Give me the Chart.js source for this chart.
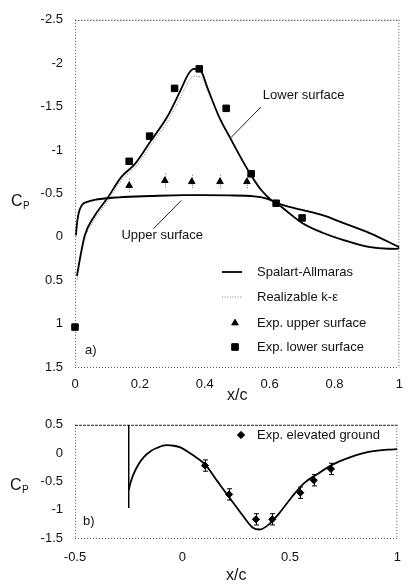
<!DOCTYPE html>
<html>
<head>
<meta charset="utf-8">
<title>Cp</title>
<script src="https://cdn.jsdelivr.net/npm/chart.js@4.4.0/dist/chart.umd.min.js"></script>
<style>
  html, body { margin: 0; padding: 0; background: #fff; }
  #wrap { position: relative; width: 413px; height: 585px; }
  canvas { position: absolute; left: 0; }
  #cpTop { top: 0; }
  #cpGnd { top: 405px; }
</style>
</head>
<body>
<div id="wrap">
  <canvas id="cpTop" width="413" height="405"></canvas>
  <canvas id="cpGnd" width="413" height="180"></canvas>
</div>
<script>
// a) perfil: ejes
const xTicksA = [0, 0.2, 0.4, 0.6, 0.8, 1];
const cpTicksA = [-2.5, -2, -1.5, -1, -0.5, 0, 0.5, 1, 1.5];

// Spalart-Allmaras
const saUpX  = [0.003, 0.006, 0.01, 0.015, 0.022, 0.035, 0.066, 0.134, 0.233, 0.334, 0.394, 0.472, 0.552, 0.588, 0.612, 0.642, 0.70, 0.77, 0.812, 0.91, 1.0];
const saUpCp = [-0.02, -0.15, -0.25, -0.32, -0.37, -0.40, -0.43, -0.455, -0.47, -0.48, -0.48, -0.477, -0.466, -0.444, -0.41, -0.364, -0.31, -0.24, -0.18, -0.04, 0.12];
const saLowX  = [0.006, 0.015, 0.03, 0.06, 0.099, 0.143, 0.185, 0.233, 0.284, 0.322, 0.352, 0.367, 0.388, 0.409, 0.442, 0.484, 0.522, 0.546, 0.576, 0.606, 0.621, 0.651, 0.70, 0.761, 0.83, 0.91, 0.99, 1.0];
const saLowCp = [0.45, 0.257, -0.014, -0.24, -0.44, -0.69, -0.84, -1.10, -1.38, -1.66, -1.89, -1.935, -1.91, -1.71, -1.40, -1.10, -0.84, -0.69, -0.53, -0.42, -0.39, -0.30, -0.16, -0.05, 0.04, 0.12, 0.14, 0.13];

// Realizable k-epsilon
const keUpCp  = [0.0, -0.12, -0.22, -0.30, -0.35, -0.39, -0.42, -0.45, -0.465, -0.475, -0.48, -0.477, -0.466, -0.446, -0.415, -0.37, -0.315, -0.245, -0.185, -0.045, 0.12];
const keLowCp = [0.5, 0.3, 0.03, -0.2, -0.4, -0.65, -0.80, -1.05, -1.32, -1.58, -1.80, -1.85, -1.84, -1.68, -1.40, -1.10, -0.85, -0.70, -0.54, -0.43, -0.40, -0.31, -0.17, -0.06, 0.03, 0.11, 0.14, 0.13];

// experimentos (tunel)
const expLowX  = [0, 0.167, 0.23, 0.307, 0.383, 0.466, 0.543, 0.62, 0.70];
const expLowCp = [1.04, -0.87, -1.16, -1.71, -1.935, -1.48, -0.726, -0.387, -0.217];
const expUpX   = [0.167, 0.277, 0.36, 0.447, 0.53];
const expUpCp  = [-0.59, -0.647, -0.635, -0.635, -0.635];
const expUpErr = [0.08, 0.08, 0.08, 0.08, 0.08];

// b) suelo elevado
const xTicksB = [-0.5, 0, 0.5, 1];
const cpTicksB = [0.5, 0, -0.5, -1, -1.5];
const wallX  = [-0.25, -0.25];
const wallCp = [0.5, -0.97];
const gndX  = [-0.25, -0.24, -0.225, -0.205, -0.18, -0.15, -0.12, -0.075, -0.04, -0.01, 0.046, 0.105, 0.163, 0.225, 0.284, 0.328, 0.36, 0.405, 0.449, 0.508, 0.566, 0.628, 0.70, 0.776, 0.866, 0.955, 1.0];
const gndCp = [-0.65, -0.5, -0.35, -0.2, -0.07, 0.03, 0.09, 0.14, 0.13, 0.1, -0.03, -0.2, -0.5, -0.82, -1.12, -1.32, -1.35, -1.25, -1.07, -0.78, -0.53, -0.37, -0.2, -0.08, 0.02, 0.06, 0.07];
const expGndX   = [0.105, 0.217, 0.342, 0.418, 0.548, 0.611, 0.691];
const expGndCp  = [-0.22, -0.73, -1.17, -1.17, -0.70, -0.48, -0.28];
const expGndErr = [0.1, 0.1, 0.1, 0.1, 0.1, 0.1, 0.1];

(() => {
    const FONT = "'Liberation Sans', Arial, Helvetica, sans-serif";
    const INK = '#111';
    const pts = (xs, ys) => xs.map((x, i) => ({ x: x, y: ys[i] }));

    const solid = { showLine: true, pointRadius: 0, borderColor: '#000', borderWidth: 1.8, cubicInterpolationMode: 'monotone', fill: false };
    const dotted = { showLine: true, pointRadius: 0, borderColor: '#777', borderWidth: 1, borderDash: [1, 1.6], cubicInterpolationMode: 'monotone', fill: false };

    // marco punteado alrededor del area
    const makeFrame = (topColor, topDash) => ({
        id: 'frame',
        beforeDatasetsDraw(chart) {
            const { ctx, chartArea: a } = chart;
            ctx.save();
            ctx.lineWidth = 1;
            ctx.strokeStyle = '#555';
            ctx.setLineDash([1, 2]);
            ctx.beginPath();
            ctx.moveTo(a.left + 0.5, a.top); ctx.lineTo(a.left + 0.5, a.bottom);
            ctx.moveTo(a.left, a.bottom + 0.5); ctx.lineTo(a.right, a.bottom + 0.5);
            ctx.moveTo(a.right - 0.5, a.top); ctx.lineTo(a.right - 0.5, a.bottom);
            ctx.stroke();
            ctx.strokeStyle = topColor;
            ctx.setLineDash(topDash);
            ctx.beginPath();
            ctx.moveTo(a.left, a.top + 0.5); ctx.lineTo(a.right, a.top + 0.5);
            ctx.stroke();
            ctx.restore();
        }
    });

    // barras de error
    const makeErrBars = (xs, ys, errs, color, dash, cap) => ({
        id: 'errBars',
        beforeDatasetsDraw(chart) {
            const { ctx, scales } = chart;
            ctx.save();
            ctx.strokeStyle = color;
            ctx.lineWidth = 1;
            ctx.setLineDash(dash);
            xs.forEach((xv, i) => {
                const px = Math.round(scales.x.getPixelForValue(xv)) + 0.5;
                const y1 = scales.y.getPixelForValue(ys[i] - errs[i]);
                const y2 = scales.y.getPixelForValue(ys[i] + errs[i]);
                ctx.beginPath();
                ctx.moveTo(px, y1); ctx.lineTo(px, y2);
                if (cap) {
                    ctx.moveTo(px - cap, y1); ctx.lineTo(px + cap, y1);
                    ctx.moveTo(px - cap, y2); ctx.lineTo(px + cap, y2);
                }
                ctx.stroke();
            });
            ctx.restore();
        }
    });

    // textos: Cp, a)/b), leyenda y etiquetas con linea guia
    const makeNotes = (cfg) => ({
        id: 'notes',
        afterDatasetsDraw(chart) {
            const { ctx, chartArea: a, scales } = chart;
            ctx.save();
            ctx.fillStyle = INK;
            ctx.textBaseline = 'alphabetic';
            ctx.textAlign = 'left';
            ctx.font = '16px ' + FONT;
            ctx.fillText('C', cfg.cp[0], cfg.cp[1]);
            ctx.font = '10px ' + FONT;
            ctx.fillText('P', cfg.cp[0] + 12, cfg.cp[1] + 3);

            ctx.font = '13px ' + FONT;
            ctx.textBaseline = 'middle';
            ctx.fillText(cfg.panel, a.left + cfg.panelOff[0], a.bottom + cfg.panelOff[1]);

            (cfg.labels || []).forEach(l => {
                const tx = scales.x.getPixelForValue(l.at[0]);
                const ty = scales.y.getPixelForValue(l.at[1]);
                ctx.fillText(l.text, tx, ty);
                ctx.strokeStyle = '#222';
                ctx.lineWidth = 1;
                ctx.beginPath();
                ctx.moveTo(scales.x.getPixelForValue(l.from[0]), scales.y.getPixelForValue(l.from[1]));
                ctx.lineTo(scales.x.getPixelForValue(l.to[0]), scales.y.getPixelForValue(l.to[1]));
                ctx.stroke();
            });

            (cfg.legend || []).forEach(e => {
                const ds = chart.data.datasets[e.ds];
                if (e.kind === 'line') {
                    ctx.save();
                    ctx.strokeStyle = ds.borderColor;
                    ctx.lineWidth = ds.borderWidth;
                    ctx.setLineDash(ds.borderDash || []);
                    ctx.beginPath();
                    ctx.moveTo(e.sx - 10, e.y); ctx.lineTo(e.sx + 10, e.y);
                    ctx.stroke();
                    ctx.restore();
                } else {
                    Chart.helpers.drawPoint(ctx, {
                        pointStyle: ds.pointStyle, radius: ds.pointRadius, borderWidth: 1, rotation: 0
                    }, e.sx, e.y);
                    ctx.fillStyle = '#000';
                    ctx.strokeStyle = '#000';
                    ctx.fill();
                }
                ctx.fillStyle = INK;
                ctx.fillText(e.text, e.tx, e.y);
            });
            ctx.restore();
        }
    });

    const axisX = (ticks, min, max, pad) => ({
        type: 'linear', min: min, max: max,
        grid: { display: false, drawTicks: false },
        border: { display: false },
        afterBuildTicks: s => { s.ticks = ticks.map(v => ({ value: v })); },
        ticks: { padding: pad, color: INK, font: { family: FONT, size: 13 }, callback: v => String(v) },
        title: { display: true, text: 'x/c', color: INK, font: { family: FONT, size: 16 }, padding: { top: 0, bottom: 0 } }
    });
    const axisY = (ticks, min, max, reverse) => ({
        type: 'linear', min: min, max: max, reverse: reverse,
        grid: { display: false, drawTicks: false },
        border: { display: false },
        afterBuildTicks: s => { s.ticks = ticks.map(v => ({ value: v })); },
        afterFit: s => { s.width = 75; },
        ticks: { padding: 12, color: INK, font: { family: FONT, size: 13 }, callback: v => String(v) }
    });

    // a) grafica de Cp en el perfil
    const xa = axisX(xTicksA, 0, 1, 10);
    xa.afterFit = s => { s.height = 38; };
    new Chart(document.getElementById('cpTop'), {
        type: 'scatter',
        data: {
            datasets: [
                { label: 'Exp. lower surface', data: pts(expLowX, expLowCp), pointStyle: 'rect', pointRadius: 4.6, backgroundColor: '#000', borderColor: '#000', borderWidth: 1, clip: false },
                { label: 'Exp. upper surface', data: pts(expUpX, expUpCp), pointStyle: 'triangle', pointRadius: 3.8, backgroundColor: '#000', borderColor: '#000', borderWidth: 1, clip: false },
                Object.assign({ label: 'Spalart-Allmaras' , data: pts(saLowX, saLowCp) }, solid),
                Object.assign({ label: 'Spalart-Allmaras upper', data: pts(saUpX, saUpCp) }, solid),
                Object.assign({ label: 'Realizable k-ε', data: pts(saLowX, keLowCp) }, dotted),
                Object.assign({ label: 'Realizable k-ε upper', data: pts(saUpX, keUpCp) }, dotted)
            ]
        },
        options: {
            responsive: false, animation: false, events: [],
            layout: { padding: { top: 13, right: 3, left: 0, bottom: 0 } },
            plugins: { legend: { display: false }, tooltip: { enabled: false } },
            scales: { x: xa, y: axisY(cpTicksA, -2.5, 1.5, true) }
        },
        plugins: [
            makeFrame('#444', [1.5, 1.5]),
            makeErrBars(expUpX, expUpCp, expUpErr, '#666', [1, 1.5], 0),
            makeNotes({
                cp: [11, 206], panel: 'a)', panelOff: [10, -17],
                labels: [
                    { text: 'Lower surface', at: [0.579, -1.63], from: [0.573, -1.494], to: [0.481, -1.144] },
                    { text: 'Upper surface', at: [0.143, -0.02], from: [0.242, -0.093], to: [0.328, -0.42] }
                ],
                legend: [
                    { kind: 'line', ds: 2, sx: 232, tx: 257, y: 272, text: 'Spalart-Allmaras' },
                    { kind: 'line', ds: 4, sx: 232, tx: 257, y: 297, text: 'Realizable k-ε' },
                    { kind: 'point', ds: 1, sx: 235, tx: 257, y: 323, text: 'Exp. upper surface' },
                    { kind: 'point', ds: 0, sx: 235, tx: 257, y: 347, text: 'Exp. lower surface' }
                ]
            })
        ]
    });

    // b) grafica con suelo elevado
    const xb = axisX(xTicksB, -0.5, 1, 12);
    xb.afterFit = s => { s.height = 47; };
    new Chart(document.getElementById('cpGnd'), {
        type: 'scatter',
        data: {
            datasets: [
                { label: 'Exp. elevated ground', data: pts(expGndX, expGndCp), pointStyle: 'rectRot', pointRadius: 3.6, backgroundColor: '#000', borderColor: '#000', borderWidth: 1, clip: false },
                Object.assign({ label: 'wall', data: pts(wallX, wallCp) }, solid, { cubicInterpolationMode: 'default', tension: 0, borderWidth: 1.5 }),
                Object.assign({ label: 'Cp', data: pts(gndX, gndCp) }, solid)
            ]
        },
        options: {
            responsive: false, animation: false, events: [],
            layout: { padding: { top: 13, right: 3, left: 0, bottom: 0 } },
            plugins: { legend: { display: false }, tooltip: { enabled: false } },
            scales: { x: xb, y: axisY(cpTicksB, -1.5, 0.5, false) }
        },
        plugins: [
            makeFrame('#222', [3, 1]),
            makeErrBars(expGndX, expGndCp, expGndErr, '#000', [], 2.5),
            makeNotes({
                cp: [10, 85], panel: 'b)', panelOff: [8, -17],
                legend: [
                    { kind: 'point', ds: 0, sx: 241, tx: 257, y: 30, text: 'Exp. elevated ground' }
                ]
            })
        ]
    });
})();
</script>
</body>
</html>
